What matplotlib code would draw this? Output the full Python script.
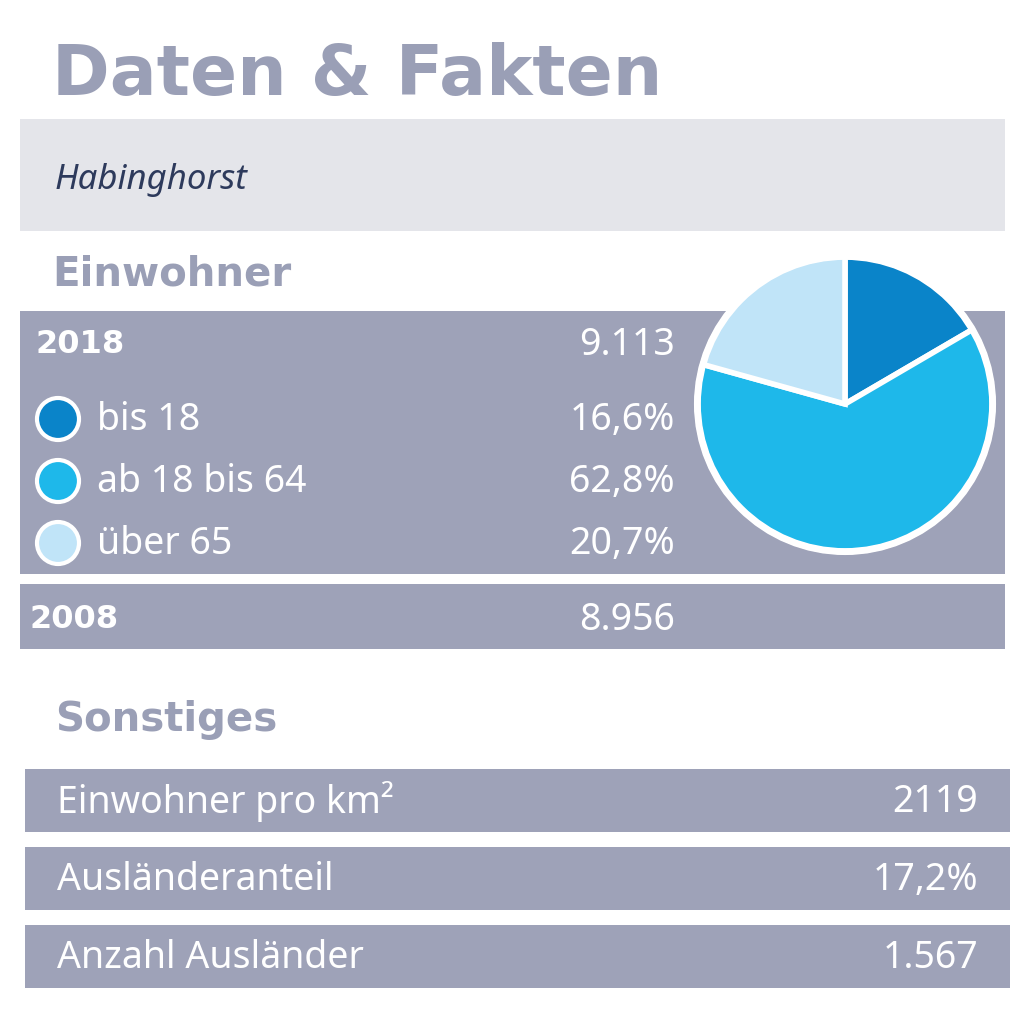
import matplotlib
matplotlib.use("Agg")
import matplotlib.pyplot as plt
from matplotlib.patches import Rectangle, Circle

title = "Daten & Fakten"
place = "Habinghorst"
groups = ["bis 18", "ab 18 bis 64", "über 65"]
shares = [16.6, 62.8, 20.7]
share_labels = ["16,6%", "62,8%", "20,7%"]
pop_2018 = "9.113"
pop_2008 = "8.956"
other_labels = ["Einwohner pro km²", "Ausländeranteil", "Anzahl Ausländer"]
other_values = ["2119", "17,2%", "1.567"]

colors = ["#0a84c9", "#1eb8ea", "#c0e4f8"]
grey = "#9ea2b8"
title_c = "#9a9fb6"
FONT = "Noto Sans"
BOLD = "DejaVu Sans"
FS = 27

W, H = 1024, 1020
fig = plt.figure(figsize=(W/100, H/100), dpi=100)
ax = fig.add_axes([0, 0, 1, 1])
ax.set_xlim(0, W); ax.set_ylim(H, 0); ax.axis("off")

def rect(x0, y0, x1, y1, c):
    ax.add_patch(Rectangle((x0, y0), x1-x0, y1-y0, color=c, lw=0))

ax.text(52, 75, title, fontsize=50, fontweight="bold", color=title_c, va="center", family=BOLD)
rect(20, 120, 1005, 232, "#e4e5ea")
ax.text(55, 180, place, fontsize=25, style="italic", color="#2d3a5c", va="center", family=FONT)
ax.text(52, 275, "Einwohner", fontsize=29, fontweight="bold", color=title_c, va="center", family=BOLD)
rect(20, 312, 1005, 575, grey)
rect(20, 585, 1005, 650, grey)
ax.text(35, 345, "2018", fontsize=23, fontweight="bold", color="white", va="center", family=BOLD)
ax.text(675, 345, pop_2018, fontsize=FS, color="white", va="center", ha="right", family=FONT)
ax.text(30, 620, "2008", fontsize=23, fontweight="bold", color="white", va="center", family=BOLD)
ax.text(675, 620, pop_2008, fontsize=FS, color="white", va="center", ha="right", family=FONT)
for i, (g, s) in enumerate(zip(groups, share_labels)):
    y = 420 + i*62
    ax.add_patch(Circle((58, y), 21, facecolor=colors[i], edgecolor="white", lw=3))
    ax.text(97, y, g, fontsize=FS, color="white", va="center", family=FONT)
    ax.text(675, y, s, fontsize=FS, color="white", va="center", ha="right", family=FONT)

ax.text(55, 720, "Sonstiges", fontsize=29, fontweight="bold", color=title_c, va="center", family=BOLD)
for i, (l, v) in enumerate(zip(other_labels, other_values)):
    y0 = 770 + i*78
    rect(25, y0, 1010, y0+63, grey)
    ax.text(57, y0+32, l, fontsize=FS, color="white", va="center", family=FONT)
    ax.text(978, y0+32, v, fontsize=FS, color="white", va="center", ha="right", family=FONT)

cx, cy, r = 845, 405, 152
pax = fig.add_axes([(cx-r)/W, 1-(cy+r)/H, 2*r/W, 2*r/H])
pax.pie(shares, colors=colors, startangle=90, counterclock=False,
        wedgeprops=dict(edgecolor="white", linewidth=4))
pax.add_patch(Circle((0, 0), 1.0, fill=False, edgecolor="white", lw=5))
pax.set_xlim(-1.03, 1.03); pax.set_ylim(-1.03, 1.03)
pax.set_aspect("equal"); pax.axis("off")

fig.savefig("out.png", dpi=100)
